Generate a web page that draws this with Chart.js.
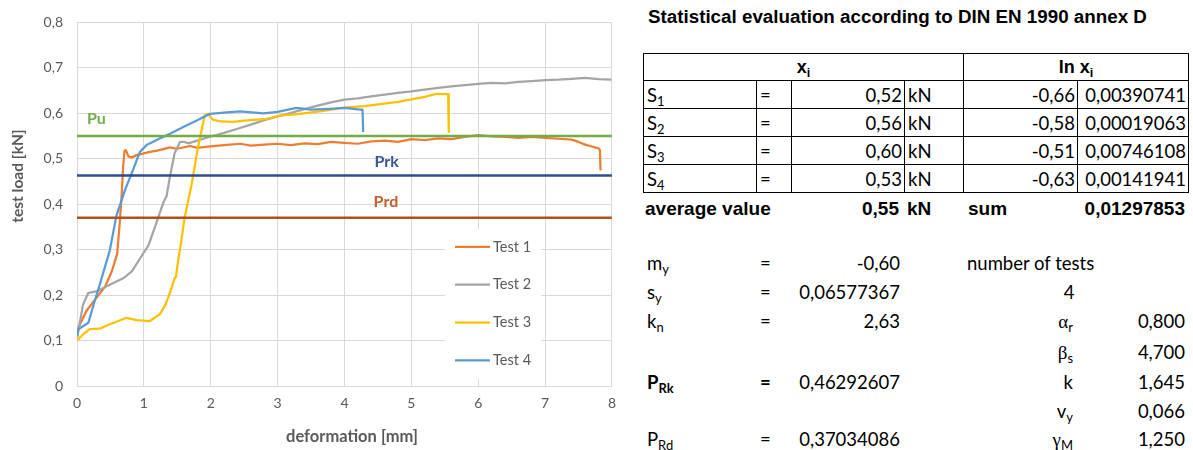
<!DOCTYPE html>
<html lang="en">
<head>
<meta charset="UTF-8">
<title>Statistical evaluation according to DIN EN 1990 annex D</title>
<script src="https://cdn.jsdelivr.net/npm/chart.js"></script>
<style>
    body { margin: 0; background: #fff; width: 1193px; height: 450px; overflow: hidden; position: relative; font-family: Lato, sans-serif; }
    #chartBox { position: absolute; left: 0; top: 0; width: 625px; height: 450px; }
    #title { position: absolute; left: 648px; top: 6px; font: bold 18.8px "Liberation Sans", Arial, sans-serif; white-space: nowrap; }
    #stats { position: absolute; left: 643px; top: 53px; border-collapse: collapse; table-layout: fixed; font: 18.5px Lato, sans-serif; }
    #stats td { border: 1px solid #000; height: 27px; padding: 0 3px; white-space: nowrap; line-height: 20px; }
    #stats tr.head td { font: bold 18px "Liberation Sans", Arial, sans-serif; text-align: center; height: 26px; }
    #stats td.r { text-align: right; padding-right: 2px; }
    sub { font-size: 70%; vertical-align: -4px; line-height: 0; }
    .t { position: absolute; white-space: nowrap; font: 18.5px Lato, sans-serif; transform: translateY(-50%); line-height: 20px; }
    .b { font-weight: bold; }
    .a { font-family: "Liberation Sans", Arial, sans-serif; font-weight: bold; font-size: 19px; }
    .g { font-family: "Liberation Serif", serif; font-size: 19px; }
</style>
</head>
<body>
<div id="chartBox"><canvas id="loadChart"></canvas></div>
<div id="title">Statistical evaluation according to DIN EN 1990 annex D</div>
<table id="stats">
    <colgroup>
        <col style="width:113px"><col style="width:35px"><col style="width:113px">
        <col style="width:59px"><col style="width:114px"><col style="width:111px">
    </colgroup>
    <tbody id="statsBody"></tbody>
</table>

<script>
    // load / deformation curves
    const test1X = [0, 0.02, 0.14, 0.29, 0.42, 0.52, 0.6, 0.64, 0.67, 0.69, 0.71, 0.73, 0.77, 0.82, 0.89, 1.0, 1.09, 1.2, 1.39, 1.5, 1.69, 1.8, 1.99, 2.2, 2.44, 2.6, 2.8, 3.0, 3.2, 3.4, 3.6, 3.8, 4.0, 4.2, 4.4, 4.6, 4.8, 5.0, 5.2, 5.4, 5.6, 5.8, 6.0, 6.2, 6.4, 6.6, 6.8, 7.0, 7.2, 7.4, 7.5, 7.6, 7.7, 7.8, 7.82, 7.83];
    const test1Y = [0.107, 0.128, 0.165, 0.194, 0.219, 0.252, 0.29, 0.36, 0.425, 0.483, 0.517, 0.519, 0.505, 0.503, 0.508, 0.512, 0.515, 0.518, 0.525, 0.522, 0.528, 0.524, 0.527, 0.530, 0.533, 0.529, 0.531, 0.533, 0.530, 0.534, 0.532, 0.537, 0.535, 0.533, 0.538, 0.540, 0.537, 0.543, 0.541, 0.545, 0.543, 0.548, 0.552, 0.549, 0.548, 0.546, 0.548, 0.546, 0.544, 0.542, 0.537, 0.531, 0.527, 0.523, 0.519, 0.474];

    const test2X = [0, 0.02, 0.09, 0.17, 0.29, 0.49, 0.69, 0.82, 0.94, 1.07, 1.19, 1.29, 1.34, 1.39, 1.46, 1.54, 1.61, 1.66, 1.8, 2.0, 2.2, 2.4, 2.6, 2.8, 3.0, 3.2, 3.4, 3.6, 3.8, 4.0, 4.2, 4.4, 4.6, 4.8, 5.0, 5.2, 5.4, 5.6, 5.8, 6.0, 6.2, 6.4, 6.6, 6.8, 7.0, 7.2, 7.4, 7.6, 7.8, 7.99];
    const test2Y = [0.107, 0.121, 0.179, 0.205, 0.208, 0.223, 0.237, 0.252, 0.28, 0.31, 0.36, 0.403, 0.418, 0.461, 0.512, 0.537, 0.537, 0.534, 0.54, 0.549, 0.557, 0.566, 0.575, 0.585, 0.593, 0.601, 0.609, 0.617, 0.624, 0.63, 0.633, 0.637, 0.641, 0.645, 0.648, 0.652, 0.656, 0.659, 0.662, 0.665, 0.667, 0.666, 0.669, 0.671, 0.673, 0.674, 0.676, 0.678, 0.675, 0.674];

    const test3X = [0, 0.02, 0.1, 0.19, 0.34, 0.49, 0.6, 0.74, 0.89, 1.09, 1.24, 1.32, 1.39, 1.46, 1.48, 1.51, 1.55, 1.61, 1.71, 1.81, 1.91, 1.96, 2.03, 2.15, 2.33, 2.5, 2.84, 3.03, 3.3, 3.63, 4.03, 4.3, 4.53, 4.8, 5.02, 5.2, 5.38, 5.55, 5.56];
    const test3Y = [0.10, 0.103, 0.115, 0.125, 0.126, 0.136, 0.142, 0.150, 0.145, 0.143, 0.158, 0.178, 0.205, 0.237, 0.24, 0.273, 0.31, 0.371, 0.44, 0.526, 0.595, 0.599, 0.586, 0.582, 0.581, 0.584, 0.588, 0.595, 0.598, 0.604, 0.613, 0.616, 0.620, 0.625, 0.631, 0.636, 0.643, 0.642, 0.559];

    const test4X = [0, 0.02, 0.17, 0.25, 0.34, 0.49, 0.59, 0.72, 0.84, 0.94, 1.04, 1.19, 1.39, 1.59, 1.79, 1.99, 2.24, 2.44, 2.79, 3.0, 3.28, 3.5, 3.78, 4.0, 4.23, 4.27, 4.28];
    const test4Y = [0.11, 0.125, 0.139, 0.18, 0.223, 0.298, 0.375, 0.432, 0.476, 0.515, 0.53, 0.541, 0.555, 0.57, 0.584, 0.599, 0.602, 0.604, 0.60, 0.603, 0.612, 0.608, 0.61, 0.612, 0.608, 0.608, 0.559];

    const testNames = ['Test 1', 'Test 2', 'Test 3', 'Test 4'];

    // characteristic levels
    const levelNames = ['Pu', 'Prk', 'Prd'];
    const levelValues = [0.55, 0.46292607, 0.37034086];
    const levelLabelX = [0.29, 4.63, 4.62];
    const levelLabelY = [0.588, 0.4935, 0.406];

    const yTickLabels = ['0', '0,1', '0,2', '0,3', '0,4', '0,5', '0,6', '0,7', '0,8'];
    const xTickLabels = ['0', '1', '2', '3', '4', '5', '6', '7', '8'];

    // table values
    const specimenIndex = ['1', '2', '3', '4'];
    const xiValues = ['0,52', '0,56', '0,60', '0,53'];
    const lnValues = ['-0,66', '-0,58', '-0,51', '-0,63'];
    const sqDevValues = ['0,00390741', '0,00019063', '0,00746108', '0,00141941'];
    const averageValue = '0,55';
    const sumValue = '0,01297853';

    const leftLabels = ['m<sub>y</sub>', 's<sub>y</sub>', 'k<sub>n</sub>', '', 'P<sub>Rk</sub>', '', 'P<sub>Rd</sub>'];
    const leftValues = ['-0,60', '0,06577367', '2,63', '', '0,46292607', '', '0,37034086'];
    const rightLabels = ['number of tests', '4', '<span class="g">α</span><sub>r</sub>', '<span class="g">β</span><sub>s</sub>', 'k', 'v<sub>y</sub>', '<span class="g">γ</span><sub>M</sub>'];
    const rightValues = ['', '', '0,800', '4,700', '1,645', '0,066', '1,250'];

    const testColors = ['#ED7D31', '#A5A5A5', '#FFC000', '#5B9BD5'];
    const levelColors = ['#70AD47', '#2E4D8E', '#B0521C'];
    const levelTextColors = ['#70AD47', '#3A5897', '#C0602A'];

    function pairs(xs, ys) {
        return xs.map((x, i) => ({ x: x, y: ys[i] }));
    }

    const testX = [test1X, test2X, test3X, test4X];
    const testY = [test1Y, test2Y, test3Y, test4Y];

    const datasets = [];
    testNames.forEach((name, i) => {
        datasets.push({
            label: name,
            data: pairs(testX[i], testY[i]),
            borderColor: testColors[i],
            borderWidth: 2.25,
            borderJoinStyle: 'round',
            pointRadius: 0,
            fill: false,
            order: 10 - i
        });
    });
    levelNames.forEach((name, i) => {
        datasets.push({
            label: name,
            data: [{ x: 0, y: levelValues[i] }, { x: 8, y: levelValues[i] }],
            borderColor: levelColors[i],
            borderWidth: 2.5,
            pointRadius: 0,
            fill: false,
            order: 3 - i
        });
    });

    const overlay = {
        id: 'overlay',
        afterDraw(chart) {
            const ctx = chart.ctx;
            const xs = chart.scales.x, ys = chart.scales.y;
            const area = chart.chartArea;
            ctx.save();

            // level labels
            ctx.font = 'bold 16px Lato';
            ctx.textAlign = 'center';
            ctx.textBaseline = 'middle';
            levelNames.forEach((name, i) => {
                ctx.fillStyle = levelTextColors[i];
                ctx.fillText(name, xs.getPixelForValue(levelLabelX[i]), ys.getPixelForValue(levelLabelY[i]));
            });

            // legend box inside plot
            const lx = area.left + 368, ly = area.top + 207;
            ctx.fillStyle = '#fff';
            ctx.fillRect(lx, ly, 96, 149);
            ctx.font = '14.5px Lato';
            ctx.textAlign = 'left';
            testNames.forEach((name, i) => {
                const yy = ly + 17.5 + i * 37.8;
                ctx.strokeStyle = testColors[i];
                ctx.lineWidth = 2.25;
                ctx.beginPath();
                ctx.moveTo(lx + 10, yy);
                ctx.lineTo(lx + 45, yy);
                ctx.stroke();
                ctx.fillStyle = '#595959';
                ctx.fillText(name, lx + 48, yy);
            });

            // axis titles
            ctx.fillStyle = '#595959';
            ctx.font = 'bold 16.5px Lato';
            ctx.textAlign = 'center';
            ctx.fillText('deformation [mm]', 352, 437);
            ctx.translate(18, 176);
            ctx.rotate(-Math.PI / 2);
            ctx.font = 'bold 15.5px Lato';
            ctx.fillText('test load [kN]', 0, 0);
            ctx.restore();
        }
    };

    Chart.defaults.font.family = 'Lato';

    new Chart(document.getElementById('loadChart'), {
        type: 'line',
        data: { datasets: datasets },
        options: {
            responsive: true,
            maintainAspectRatio: false,
            animation: false,
            layout: { padding: { left: 0, top: 17, right: 13, bottom: 0 } },
            plugins: { legend: { display: false }, tooltip: { enabled: false } },
            scales: {
                x: {
                    type: 'linear',
                    min: 0, max: 8,
                    grid: { color: '#D9D9D9', drawTicks: false },
                    border: { color: '#D9D9D9' },
                    ticks: {
                        stepSize: 1, padding: 9, color: '#595959', font: { size: 14 },
                        callback: (v, i) => xTickLabels[i]
                    },
                    afterFit: s => { s.height = 64; }
                },
                y: {
                    min: 0, max: 0.8,
                    grid: { color: '#D9D9D9', drawTicks: false },
                    border: { color: '#D9D9D9' },
                    ticks: {
                        stepSize: 0.1, padding: 14, color: '#595959', font: { size: 14 },
                        callback: (v, i) => yTickLabels[i]
                    },
                    afterFit: s => { s.width = 77; }
                }
            }
        },
        plugins: [overlay]
    });

    // table of single values
    const body = document.getElementById('statsBody');
    let html = '<tr class="head"><td colspan="4">x<sub>i</sub></td><td colspan="2">ln x<sub>i</sub></td></tr>';
    specimenIndex.forEach((n, i) => {
        html += '<tr><td>S<sub>' + n + '</sub></td><td>=</td><td class="r">' + xiValues[i] +
            '</td><td>kN</td><td class="r">' + lnValues[i] + '</td><td class="r">' + sqDevValues[i] + '</td></tr>';
    });
    body.innerHTML = html;

    function place(content, x, y, align, cls) {
        const d = document.createElement('div');
        d.className = 't' + (cls ? ' ' + cls : '');
        d.innerHTML = content;
        d.style.top = y + 'px';
        if (align === 'right') d.style.right = (1193 - x) + 'px';
        else if (align === 'center') { d.style.left = x + 'px'; d.style.transform = 'translate(-50%,-50%)'; }
        else d.style.left = x + 'px';
        document.body.appendChild(d);
    }

    place('average value', 645, 209, 'left', 'a');
    place(averageValue, 899, 209, 'right', 'a');
    place('kN', 907, 209, 'left', 'a');
    place('sum', 968, 209, 'left', 'a');
    place(sumValue, 1185, 209, 'right', 'a');

    const rowY = [263, 292, 321, 352, 382, 411, 439];
    rowY.forEach((y, i) => {
        const bold = i === 4 ? 'b' : '';
        if (leftLabels[i]) {
            place(leftLabels[i], 647, y, 'left', bold);
            place('=', 760, y, 'left', bold);
            place(leftValues[i], 900, y, 'right');
        }
        if (i === 0) place(rightLabels[i], 967, y, 'left');
        else if (i === 1) place(rightLabels[i], 1069, y, 'center');
        else {
            place(rightLabels[i], 1073, y, 'right');
            place(rightValues[i], 1185, y, 'right');
        }
    });
</script>
</body>
</html>
